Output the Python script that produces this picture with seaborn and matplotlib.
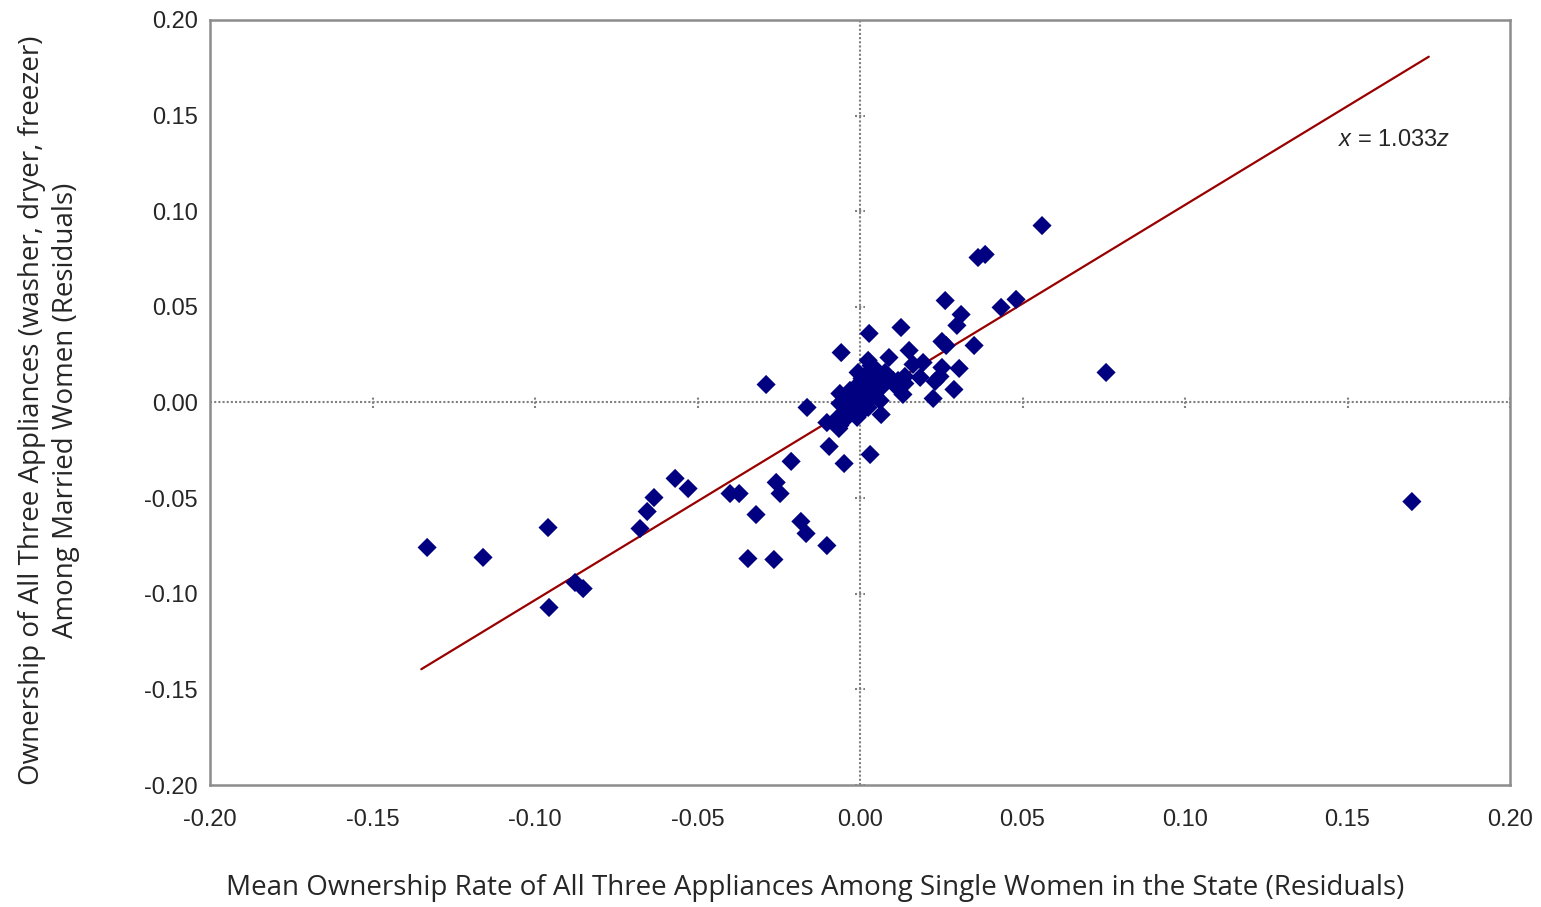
import numpy as np
import pandas as pd
import seaborn as sns
from matplotlib import pyplot as plt

# residuals: single women (x) vs married women (y)
single_resid = [
    -0.1332, -0.1160, -0.0960, -0.0957, -0.0877, -0.0852, -0.0677, -0.0655, -0.0634, -0.0569,
    -0.0529, -0.0400, -0.0372, -0.0320, -0.0345, -0.0265, -0.0258, -0.0246, -0.0212, -0.0289,
    -0.0182, -0.0166, -0.0102, -0.0163, -0.0095, -0.0049, 0.0031, -0.0058, 0.0028, 0.0560,
    0.0363, 0.0385, 0.0262, 0.0311, 0.0298, 0.0434, 0.0480, 0.0351, 0.0126, 0.0252,
    0.0265, 0.0151, 0.0089, 0.0757, 0.1698, 0.0305, 0.0252, 0.0246, 0.0231, 0.0225,
    0.0289, 0.0185, 0.0163, 0.0194, 0.0132, 0.0138, 0.0117, 0.0065, 0.0025, 0.0022,
    0.0052, 0.0083, 0.0040, 0.0102, 0.0071, 0.0108, 0.0062, -0.0062, -0.0022, 0.0009,
    0.0031, 0.0052, 0.0062, -0.0062, -0.0031, 0.0000, 0.0025, -0.0052, -0.0022, 0.0009,
    -0.0102, -0.0062, -0.0065, -0.0040, -0.0009, -0.0071, 0.0022, -0.0009, 0.0034, 0.0077,
    -0.0046, -0.0015, 0.0015, 0.0046, 0.0006, -0.0031, 0.0138, -0.0006,
]
married_resid = [
    -0.0758, -0.0810, -0.0654, -0.1072, -0.0941, -0.0973, -0.0659, -0.0570, -0.0497, -0.0397,
    -0.0450, -0.0476, -0.0476, -0.0586, -0.0816, -0.0821, -0.0418, -0.0476, -0.0308, 0.0094,
    -0.0622, -0.0685, -0.0748, -0.0026, -0.0230, -0.0319, -0.0272, 0.0261, 0.0361, 0.0925,
    0.0758, 0.0774, 0.0533, 0.0460, 0.0403, 0.0497, 0.0539, 0.0298, 0.0392, 0.0319,
    0.0298, 0.0272, 0.0235, 0.0157, -0.0518, 0.0178, 0.0183, 0.0136, 0.0110, 0.0021,
    0.0068, 0.0131, 0.0199, 0.0209, 0.0042, 0.0136, 0.0115, -0.0063, 0.0220, 0.0152,
    0.0167, 0.0131, 0.0115, 0.0115, 0.0115, 0.0089, 0.0073, 0.0047, 0.0047, 0.0047,
    0.0026, 0.0063, 0.0010, -0.0005, -0.0005, -0.0005, -0.0026, -0.0058, -0.0042, -0.0042,
    -0.0105, -0.0120, -0.0136, -0.0078, -0.0078, -0.0084, 0.0073, 0.0089, 0.0193, 0.0157,
    0.0010, 0.0021, 0.0089, 0.0037, 0.0125, 0.0063, 0.0099, 0.0157,
]

slope = 1.033
fit_x = [-0.135, 0.175]
ticks = [-0.20, -0.15, -0.10, -0.05, 0.00, 0.05, 0.10, 0.15, 0.20]
tick_labels = ['{:.2f}'.format(t) for t in ticks]

df = pd.DataFrame({'single': single_resid, 'married': married_resid})
fit = pd.DataFrame({'x': fit_x, 'y': [slope * v for v in fit_x]})

sns.set_style('white')
plt.rcParams['font.family'] = ['Liberation Sans', 'DejaVu Sans']
plt.rcParams['mathtext.fontset'] = 'custom'
plt.rcParams['mathtext.it'] = 'Liberation Sans:italic'
plt.rcParams['mathtext.rm'] = 'Liberation Sans'

fig = plt.figure(figsize=(15.41, 9.07), dpi=100)
ax = fig.add_axes([0.1363, 0.1345, 0.8436, 0.8435])

# dotted axes through the origin, with small tick marks
grey = '#808080'
ax.axhline(0, color=grey, lw=1.5, ls=(0, (1, 1)), zorder=1)
ax.axvline(0, color=grey, lw=1.5, ls=(0, (1, 1)), zorder=1)
inner = [t for t in ticks if t != 0]
ax.vlines(inner, -0.0028, 0.0028, colors=grey, lw=1.5, linestyles=(0, (1, 1)), zorder=1)
ax.hlines(inner, -0.0016, 0.0016, colors=grey, lw=1.5, linestyles=(0, (1, 1)), zorder=1)

sns.lineplot(data=fit, x='x', y='y', ax=ax, color='#990000', lw=1.6, zorder=2)
sns.scatterplot(data=df, x='single', y='married', ax=ax, marker='D', s=95,
                color='#000080', edgecolor='none', linewidth=0, zorder=3)

ax.text(0.1471, 0.137, '$x$ = 1.033$z$', fontsize=17, va='center', ha='left')

ax.set_xlim(-0.2, 0.2)
ax.set_ylim(-0.2, 0.2)
ax.set_xticks(ticks)
ax.set_xticklabels(tick_labels)
ax.set_yticks(ticks)
ax.set_yticklabels(tick_labels)
ax.tick_params(axis='x', length=0, pad=17, labelsize=17)
ax.tick_params(axis='y', length=0, pad=9, labelsize=17)
ax.set_xlabel('')
ax.set_ylabel('')
for s in ax.spines.values():
    s.set_color('#8c8c8c')
    s.set_linewidth(1.8)

lab_font = ['Open Sans', 'DejaVu Sans']
fig.text(0.529, 0.021, 'Mean Ownership Rate of All Three Appliances Among Single Women in the State (Residuals)',
         fontsize=20, family=lab_font, ha='center', va='center')
fig.text(0.032, 0.548, 'Ownership of All Three Appliances (washer, dryer, freezer)\nAmong Married Women (Residuals)',
         fontsize=20, family=lab_font, ha='center', va='center', rotation=90,
         multialignment='center', linespacing=1.3)

fig.savefig('out.png', dpi=100)
